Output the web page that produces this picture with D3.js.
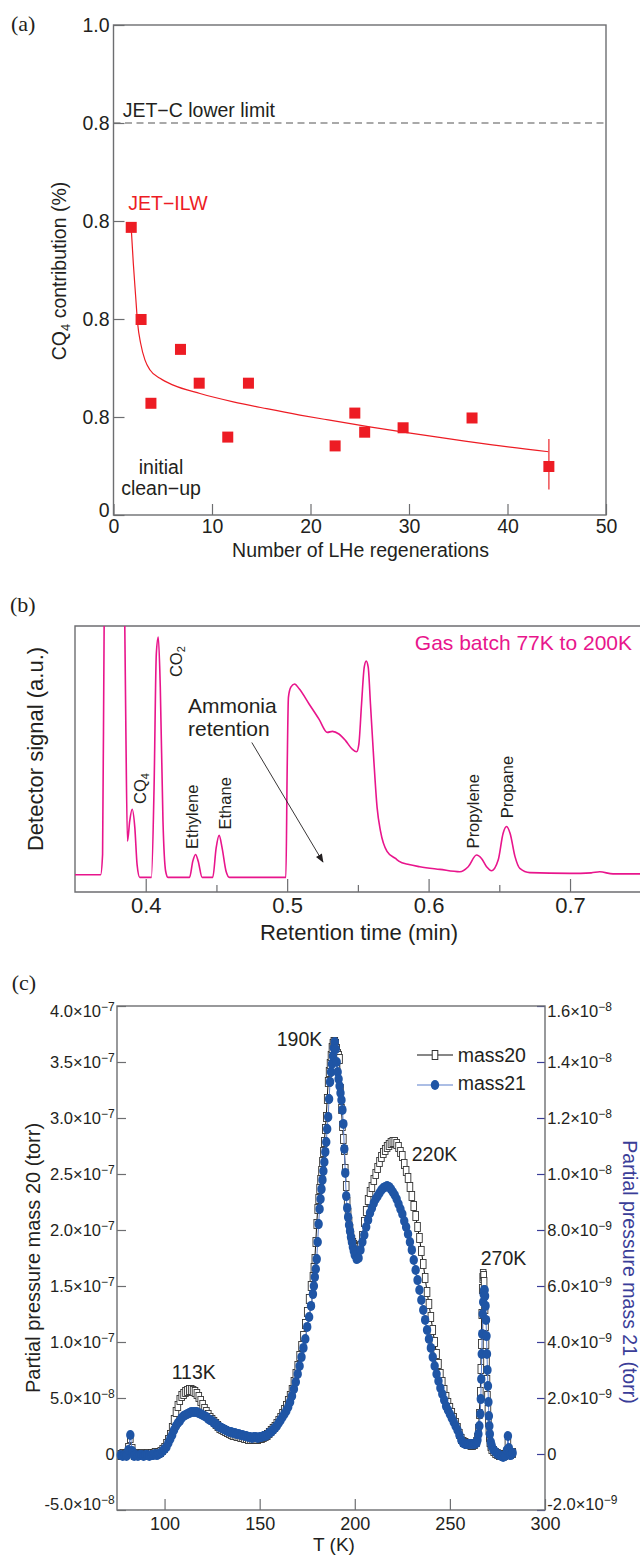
<!DOCTYPE html>
<html>
<head>
<meta charset="utf-8">
<script src="https://cdn.jsdelivr.net/npm/d3@7"></script>
<style>
  body { margin: 0; background: #fff; }
  svg text { font-family: "Liberation Sans", Arial, Helvetica, sans-serif; fill: #231f20; }
  svg text.serif { font-family: "Liberation Serif", "Times New Roman", serif; }
</style>
</head>
<body>
<svg id="fig" width="640" height="1556"></svg>
<script>
// ---------- (a) CQ4 contribution vs number of LHe regenerations ----------
const regenCount = [1.8, 2.8, 3.8, 6.8, 8.7, 11.6, 13.7, 22.5, 24.5, 25.5, 29.4, 36.4, 44.2];
const cq4Contrib = [0.587, 0.399, 0.228, 0.338, 0.269, 0.159, 0.269, 0.141, 0.208, 0.169, 0.178, 0.198, 0.099];
const fitRegen = [1.81, 2.01, 2.25, 2.45, 2.76, 3.2, 3.71, 4.72, 6.07, 8.78, 12.16, 15.55, 18.93, 21.8, 26, 30.13, 34.3, 38.46, 44.2];
const fitContrib = [0.582, 0.514, 0.446, 0.391, 0.35, 0.316, 0.296, 0.279, 0.265, 0.248, 0.231, 0.217, 0.204, 0.194, 0.18, 0.167, 0.155, 0.143, 0.129];
const lastErr = { x: 44.2, lo: 0.052, hi: 0.155 };
const jetCLimit = 0.8;
const aXTicks = [0, 10, 20, 30, 40, 50];
const aYTicks = [0, 0.2, 0.4, 0.6, 0.8, 1.0];
const aYTickLabels = ["0", "0.8", "0.8", "0.8", "0.8", "1.0"];

// ---------- (b) gas chromatogram ----------
const rtMin = [0.350, 0.3681, 0.3695, 0.3706, 0.3720, 0.3840, 0.3852, 0.3859, 0.3871, 0.3887,
  0.3904, 0.3923, 0.3939, 0.3958, 0.4040, 0.4059, 0.4075, 0.4089, 0.4103, 0.4122,
  0.4141, 0.4157, 0.4310, 0.4333, 0.4352, 0.4371, 0.4399, 0.4474, 0.4498, 0.4519,
  0.4540, 0.4568, 0.4592, 0.4991, 0.5000, 0.5009, 0.5026, 0.5052, 0.5085, 0.5155,
  0.5225, 0.5284, 0.5320, 0.5366, 0.5413, 0.5460, 0.5491, 0.5507, 0.5526, 0.5545,
  0.5559, 0.5573, 0.5589, 0.5613, 0.5636, 0.5660, 0.5706, 0.5766, 0.5789, 0.5861,
  0.5938, 0.6080, 0.6221, 0.6280, 0.6339, 0.6374, 0.6410, 0.6445, 0.6492, 0.6527,
  0.6551, 0.6576, 0.6611, 0.6645, 0.6716, 0.6998, 0.7150, 0.7210, 0.7304, 0.7493, 0.750];
const detSignal = [0.065, 0.065, 0.141, 1.0, 1.4, 1.4, 1.0, 0.644, 0.191, 0.267,
  0.311, 0.242, 0.103, 0.055, 0.055, 0.392, 0.896, 0.958, 0.770, 0.267,
  0.078, 0.055, 0.055, 0.116, 0.141, 0.116, 0.055, 0.055, 0.166, 0.213,
  0.166, 0.078, 0.055, 0.055, 0.455, 0.732, 0.770, 0.782, 0.764, 0.707,
  0.650, 0.600, 0.604, 0.594, 0.569, 0.537, 0.527, 0.556, 0.707, 0.845,
  0.868, 0.845, 0.707, 0.493, 0.317, 0.229, 0.153, 0.126, 0.116, 0.103,
  0.095, 0.085, 0.076, 0.095, 0.139, 0.126, 0.095, 0.080, 0.120, 0.221,
  0.246, 0.221, 0.133, 0.089, 0.073, 0.070, 0.072, 0.076, 0.068, 0.068, 0.068];
const bMajorTicks = [0.4, 0.5, 0.6, 0.7];
const bMinorTicks = [0.45, 0.55, 0.65];
// peak name, subscript, retention time and signal where the label starts
const peakNames = ["CQ", "CO", "Ethylene", "Ethane", "Propylene", "Propane"];
const peakSubs = ["4", "2", "", "", "", ""];
const peakLabelRt = [0.4005, 0.4256, 0.4369, 0.4606, 0.6355, 0.6595];
const peakLabelSig = [0.331, 0.808, 0.162, 0.235, 0.164, 0.277];

// ---------- (c) TPD partial pressures ----------
const tempK = [77, 78, 79, 80, 81, 82, 83, 84, 85, 86,
  87, 88, 89, 90, 91, 92, 93, 94, 95, 96,
  97, 98, 99, 100, 101, 102, 103, 104, 105, 106,
  107, 108, 109, 110, 111, 112, 113, 114, 115, 116,
  117, 118, 119, 120, 121, 122, 123, 124, 125, 126,
  127, 128, 129, 130, 131, 132, 133, 134, 135, 136,
  137, 138, 139, 140, 141, 142, 143, 144, 145, 146,
  147, 148, 149, 150, 151, 152, 153, 154, 155, 156,
  157, 158, 159, 160, 161, 162, 163, 164, 165, 166,
  167, 168, 169, 170, 171, 172, 173, 174, 175, 176,
  177, 178, 178.5, 179, 179.5, 180, 180.5, 181, 181.5, 182,
  182.5, 183, 183.5, 184, 184.5, 185, 185.5, 186, 186.5, 187,
  187.5, 188, 188.5, 189, 189.5, 190, 190.5, 191, 191.5, 192,
  192.5, 193, 193.5, 194, 194.5, 195, 195.5, 196, 196.5, 197,
  197.5, 198, 198.5, 199, 199.5, 200, 201, 202, 203, 204,
  205, 206, 207, 208, 209, 210, 211, 212, 213, 214,
  215, 216, 217, 218, 219, 220, 221, 222, 223, 224,
  225, 226, 227, 228, 229, 230, 231, 232, 233, 234,
  235, 236, 237, 238, 239, 240, 241, 242, 243, 244,
  245, 246, 247, 248, 249, 250, 251, 252, 253, 254,
  255, 256, 257, 258, 259, 260, 261, 262, 263, 264,
  264.5, 265, 265.5, 266, 266.25, 266.5, 266.75, 267, 267.25, 267.5,
  267.75, 268, 268.25, 268.5, 268.75, 269, 269.25, 269.5, 269.75, 270,
  270.25, 270.5, 270.75, 271, 271.5, 272, 273, 274, 275, 276,
  277, 278, 279, 280, 280.5, 281, 282, 283];
// mass 20 in units of 1e-8 torr (left axis)
const mass20 = [-0.09, 0, -0.09, 0, 0.54, 1.43, 0.45, -0.09, 0, -0.09,
  -0.09, 0, -0.09, -0.09, 0, -0.09, 0, 0, 0.09, 0,
  0.09, 0.18, 0.36, 0.54, 0.89, 1.25, 1.70, 2.32, 3.04, 3.75,
  4.29, 4.82, 5.18, 5.36, 5.54, 5.63, 5.71, 5.71, 5.63, 5.54,
  5.36, 5.09, 4.73, 4.38, 4.02, 3.75, 3.48, 3.21, 3.04, 2.86,
  2.68, 2.50, 2.32, 2.23, 2.14, 2.05, 1.96, 1.88, 1.79, 1.70,
  1.70, 1.61, 1.61, 1.52, 1.52, 1.43, 1.43, 1.34, 1.34, 1.34,
  1.34, 1.34, 1.34, 1.43, 1.43, 1.52, 1.61, 1.70, 1.88, 2.05,
  2.23, 2.41, 2.68, 2.95, 3.21, 3.57, 3.93, 4.29, 4.73, 5.18,
  5.71, 6.43, 7.14, 7.86, 8.75, 9.64, 10.54, 11.61, 12.68, 13.84,
  15.00, 15.80, 16.61, 17.41, 18.93, 20.54, 21.88, 22.77, 23.66, 24.46,
  25.27, 26.07, 26.96, 27.86, 29.02, 30.09, 31.70, 33.21, 34.11, 34.82,
  35.54, 36.25, 36.61, 36.79, 36.79, 36.61, 36.16, 35.71, 35.54, 35.27,
  32.59, 30.80, 29.29, 28.13, 27.14, 25.45, 23.93, 22.50, 21.52, 20.71,
  20.09, 19.46, 19.11, 18.84, 18.66, 18.48, 18.39, 18.39, 18.57, 19.46,
  20.71, 21.70, 22.68, 23.39, 23.84, 24.46, 25.00, 25.54, 26.07, 26.52,
  26.88, 27.14, 27.41, 27.59, 27.77, 27.86, 27.86, 27.68, 27.41, 26.96,
  26.61, 25.89, 25.27, 24.64, 23.84, 23.04, 22.14, 21.25, 20.27, 19.29,
  18.13, 16.96, 15.71, 14.46, 13.39, 12.23, 11.07, 10.00, 8.93, 8.04,
  7.14, 6.43, 5.71, 5.09, 4.55, 4.11, 3.66, 3.21, 2.77, 2.32,
  1.79, 1.34, 1.07, 0.98, 0.89, 0.89, 0.80, 0.80, 0.89, 1.07,
  1.43, 2.23, 3.57, 5.54, 7.59, 9.82, 12.50, 14.73, 15.71, 16.07,
  15.89, 15.36, 14.29, 12.95, 11.43, 9.82, 8.21, 6.61, 5.18, 3.93,
  2.86, 2.14, 1.52, 1.07, 0.71, 0.45, 0.27, 0.09, 0, -0.09,
  -0.09, -0.18, -0.09, 0.18, 0.89, 0.36, 0, 0.09];
// mass 21 in units of 1e-9 torr (right axis)
const mass21 = [-0.04, -0.07, -0.04, -0.07, 0.14, 0.68, 0.11, -0.07, -0.04, -0.07,
  -0.04, -0.04, -0.07, -0.04, -0.04, -0.07, -0.04, -0.04, 0, -0.04,
  0, 0.04, 0.11, 0.18, 0.25, 0.39, 0.54, 0.68, 0.86, 1.00,
  1.11, 1.18, 1.29, 1.36, 1.39, 1.43, 1.46, 1.50, 1.50, 1.50,
  1.50, 1.46, 1.43, 1.39, 1.36, 1.32, 1.25, 1.21, 1.18, 1.11,
  1.07, 1.00, 0.96, 0.93, 0.89, 0.86, 0.82, 0.79, 0.79, 0.75,
  0.75, 0.71, 0.71, 0.68, 0.68, 0.64, 0.64, 0.61, 0.61, 0.57,
  0.61, 0.61, 0.57, 0.61, 0.61, 0.64, 0.64, 0.68, 0.75, 0.79,
  0.86, 0.93, 1.00, 1.11, 1.21, 1.32, 1.43, 1.54, 1.68, 1.86,
  2.07, 2.32, 2.57, 2.86, 3.14, 3.46, 3.79, 4.11, 4.54, 4.89,
  5.29, 5.71, 6.00, 6.32, 6.61, 6.96, 7.57, 8.21, 8.75, 9.11,
  9.46, 9.79, 10.11, 10.43, 10.79, 11.14, 11.61, 12.04, 12.68, 13.29,
  13.64, 13.93, 14.21, 14.50, 14.71, 14.46, 14.00, 13.64, 13.39, 13.14,
  12.89, 12.64, 12.29, 11.79, 10.89, 10.04, 9.21, 8.79, 8.46, 8.18,
  7.96, 7.75, 7.57, 7.39, 7.25, 7.11, 6.96, 7.00, 7.29, 7.57,
  7.82, 8.11, 8.36, 8.61, 8.79, 8.96, 9.11, 9.21, 9.32, 9.43,
  9.50, 9.54, 9.57, 9.54, 9.46, 9.36, 9.25, 9.11, 8.93, 8.75,
  8.57, 8.32, 8.11, 7.86, 7.57, 7.29, 6.93, 6.57, 6.21, 5.86,
  5.50, 5.14, 4.79, 4.43, 4.11, 3.79, 3.46, 3.14, 2.86, 2.61,
  2.36, 2.14, 1.93, 1.71, 1.57, 1.43, 1.29, 1.14, 1.00, 0.86,
  0.68, 0.50, 0.39, 0.36, 0.36, 0.36, 0.36, 0.36, 0.36, 0.39,
  0.50, 0.71, 1.00, 1.43, 1.96, 2.68, 3.57, 4.29, 5.00, 5.43,
  5.71, 5.86, 5.86, 5.64, 5.29, 4.79, 4.21, 3.57, 3.00, 2.43,
  1.86, 1.36, 1.00, 0.71, 0.43, 0.29, 0.14, 0.07, 0, -0.04,
  -0.07, -0.11, -0.07, 0.14, 0.64, 0.21, -0.04, 0.04];
const M20_UNIT = 1e-8, M21_UNIT = 1e-9;
const cXTicks = [100, 150, 200, 250, 300];
const cLeftTicks = [-5e-8, 0, 5e-8, 1e-7, 1.5e-7, 2e-7, 2.5e-7, 3e-7, 3.5e-7, 4e-7];
const cLeftLabels = [["-5.0", "8"], ["0", ""], ["5.0", "8"], ["1.0", "7"], ["1.5", "7"], ["2.0", "7"], ["2.5", "7"], ["3.0", "7"], ["3.5", "7"], ["4.0", "7"]];
const cRightTicks = [-2e-9, 0, 2e-9, 4e-9, 6e-9, 8e-9, 1e-8, 1.2e-8, 1.4e-8, 1.6e-8];
const cRightLabels = [["-2.0", "9"], ["0", ""], ["2.0", "9"], ["4.0", "9"], ["6.0", "9"], ["8.0", "9"], ["1.0", "8"], ["1.2", "8"], ["1.4", "8"], ["1.6", "8"]];
const peakTempLabels = ["113K", "190K", "220K", "270K"];

// ---------- drawing ----------
const FRAME = "#6d6e71";
const RED = "#ed1c24";
const MAGENTA = "#e8158c";
const BLUE = "#1f55a5";
const AXBLUE = "#3a3d98";
const svg = d3.select("#fig");

function styleAxis(g, size, color) {
  g.select(".domain").remove();
  g.selectAll(".tick line").attr("stroke", color || FRAME).attr("stroke-width", 1.2);
  g.selectAll(".tick text").attr("font-size", size).attr("fill", "#231f20")
    .attr("font-family", '"Liberation Sans", Arial, sans-serif');
}
// end labels sit just inside the frame, as in the original figure
function nudgeEnds(g, lo, hi) {
  g.selectAll(".tick text").filter(d => d === lo).attr("y", -6);
  g.selectAll(".tick text").filter(d => d === hi).attr("y", 5);
}

// panel (a)
const xA = d3.scaleLinear().domain([0, 50]).range([113.5, 606]);
const yA = d3.scaleLinear().domain([0, 1]).range([515, 25]);
const gA = svg.append("g");

gA.append("line")
  .attr("x1", xA(0)).attr("x2", xA(50))
  .attr("y1", yA(jetCLimit)).attr("y2", yA(jetCLimit))
  .attr("stroke", "#555").attr("stroke-width", 1.2).attr("stroke-dasharray", "7,4.5");

gA.append("g").attr("transform", `translate(${xA(0)},0)`)
  .call(d3.axisLeft(yA).tickValues(aYTicks).tickFormat((d, i) => aYTickLabels[i]).tickSize(-11).tickPadding(4))
  .call(g => styleAxis(g, 19.5))
  .call(g => g.selectAll(".tick text").filter(d => d === 0).attr("y", -5));
gA.append("g").attr("transform", `translate(0,${yA(0)})`)
  .call(d3.axisBottom(xA).tickValues(aXTicks).tickFormat(d3.format("d")).tickSize(-11).tickPadding(4.5))
  .call(g => styleAxis(g, 19.5));

gA.append("rect")
  .attr("x", xA(0)).attr("y", yA(1))
  .attr("width", xA(50) - xA(0)).attr("height", yA(0) - yA(1))
  .attr("fill", "none").attr("stroke", FRAME).attr("stroke-width", 1.4);

gA.append("path")
  .datum(fitRegen.map((x, i) => [x, fitContrib[i]]))
  .attr("fill", "none").attr("stroke", RED).attr("stroke-width", 1.2)
  .attr("d", d3.line().x(d => xA(d[0])).y(d => yA(d[1])).curve(d3.curveMonotoneX));

gA.append("line")
  .attr("x1", xA(lastErr.x)).attr("x2", xA(lastErr.x))
  .attr("y1", yA(lastErr.lo)).attr("y2", yA(lastErr.hi))
  .attr("stroke", "#f05a5e").attr("stroke-width", 1.6);

gA.selectAll("rect.pt")
  .data(regenCount.map((x, i) => [x, cq4Contrib[i]]))
  .join("rect").attr("class", "pt")
  .attr("x", d => xA(d[0]) - 5.5).attr("y", d => yA(d[1]) - 5.5)
  .attr("width", 11).attr("height", 11).attr("fill", RED);

gA.append("text").attr("x", 122.7).attr("y", 117.3).attr("font-size", 19.5).text("JET\u2212C lower limit");
gA.append("text").attr("x", 128.3).attr("y", 210).attr("font-size", 19.5).style("fill", RED).text("JET\u2212ILW");
gA.append("text").attr("x", 161).attr("y", 474).attr("font-size", 19.5).attr("text-anchor", "middle").text("initial");
gA.append("text").attr("x", 161).attr("y", 495).attr("font-size", 19.5).attr("text-anchor", "middle").text("clean\u2212up");

const yLabA = gA.append("text").attr("transform", "translate(66,271) rotate(-90)")
  .attr("text-anchor", "middle").attr("font-size", 19.5);
yLabA.append("tspan").text("CQ");
yLabA.append("tspan").attr("font-size", 13).attr("dy", 4).text("4");
yLabA.append("tspan").attr("dy", -4).text(" contribution (%)");
gA.append("text").attr("x", 360.5).attr("y", 557).attr("font-size", 19.5).attr("text-anchor", "middle")
  .text("Number of LHe regenerations");
gA.append("text").attr("class", "serif").attr("x", 11).attr("y", 31).attr("font-size", 22).text("(a)");

// panel (b)
const xB = d3.scaleLinear().domain([0.35, 0.75]).range([75, 640.75]);
const yB = d3.scaleLinear().domain([0, 1]).range([892, 626]);
const gB = svg.append("g");

gB.append("clipPath").attr("id", "clipB")
  .append("rect").attr("x", 75).attr("y", 626).attr("width", 565).attr("height", 266);

gB.append("g").attr("transform", `translate(0,${yB(0)})`)
  .call(d3.axisBottom(xB).tickValues(bMajorTicks).tickFormat(d3.format(".1f")).tickSize(-13).tickPadding(5.5))
  .call(g => styleAxis(g, 22));
gB.append("g").attr("transform", `translate(0,${yB(0)})`)
  .call(d3.axisBottom(xB).tickValues(bMinorTicks).tickFormat("").tickSize(-7))
  .call(g => styleAxis(g, 22));

gB.append("path")
  .attr("fill", "none").attr("stroke", FRAME).attr("stroke-width", 1.4)
  .attr("d", `M640,${yB(1)}H${xB(0.35)}V${yB(0)}H640`);

gB.append("path")
  .datum(rtMin.map((x, i) => [x, detSignal[i]]))
  .attr("clip-path", "url(#clipB)")
  .attr("fill", "none").attr("stroke", MAGENTA).attr("stroke-width", 1.6)
  .attr("d", d3.line().x(d => xB(d[0])).y(d => yB(d[1])).curve(d3.curveMonotoneX));

peakNames.forEach((name, i) => {
  const t = gB.append("text")
    .attr("transform", `translate(${xB(peakLabelRt[i])},${yB(peakLabelSig[i])}) rotate(-90)`)
    .attr("font-size", 16.5);
  t.append("tspan").text(name);
  if (peakSubs[i]) t.append("tspan").attr("font-size", 11).attr("dy", 3).text(peakSubs[i]);
});

gB.append("text").attr("x", 632).attr("y", 650).attr("font-size", 21).attr("text-anchor", "end")
  .style("fill", MAGENTA).text("Gas batch 77K to 200K");
gB.append("text").attr("x", 188).attr("y", 713).attr("font-size", 21).text("Ammonia");
gB.append("text").attr("x", 188).attr("y", 735.5).attr("font-size", 21).text("retention");

svg.append("defs").append("marker")
  .attr("id", "arrowHead").attr("viewBox", "0 0 10 8").attr("refX", 9).attr("refY", 4)
  .attr("markerWidth", 9).attr("markerHeight", 7).attr("markerUnits", "userSpaceOnUse")
  .attr("orient", "auto")
  .append("path").attr("d", "M0,0L10,4L0,8Z").attr("fill", "#231f20");
gB.append("line")
  .attr("x1", xB(0.475)).attr("y1", yB(0.562))
  .attr("x2", xB(0.5253)).attr("y2", yB(0.113))
  .attr("stroke", "#231f20").attr("stroke-width", 0.9).attr("marker-end", "url(#arrowHead)");

gB.append("text").attr("transform", "translate(43,749) rotate(-90)").attr("text-anchor", "middle")
  .attr("font-size", 22).text("Detector signal (a.u.)");
gB.append("text").attr("x", 359).attr("y", 940).attr("text-anchor", "middle").attr("font-size", 22)
  .text("Retention time (min)");
gB.append("text").attr("class", "serif").attr("x", 10).attr("y", 612).attr("font-size", 22).text("(b)");

// panel (c)
const xC = d3.scaleLinear().domain([75, 300]).range([117, 545]);
const yL = d3.scaleLinear().domain([-5e-8, 4e-7]).range([1510, 1006]);
const yR = d3.scaleLinear().domain([-2e-9, 1.6e-8]).range([1510, 1006]);
const gC = svg.append("g");

function sciLabels(g, labels) {
  g.selectAll(".tick text").each(function (d, i) {
    const t = d3.select(this).text(null);
    const [m, e] = labels[i];
    if (!e) { t.text(m); return; }
    t.append("tspan").text(m + "\u00d710");
    t.append("tspan").attr("font-size", 12).attr("dy", "-0.5em").text("\u2212" + e);
  });
}

gC.append("g").attr("transform", `translate(${xC(75)},0)`)
  .call(d3.axisLeft(yL).tickValues(cLeftTicks).tickSize(-9).tickPadding(2.3))
  .call(g => styleAxis(g, 16.5))
  .call(g => sciLabels(g, cLeftLabels))
  .call(g => nudgeEnds(g, -5e-8, 4e-7));
gC.append("g").attr("transform", `translate(${xC(300)},0)`)
  .call(d3.axisRight(yR).tickValues(cRightTicks).tickSize(-8).tickPadding(2.3))
  .call(g => styleAxis(g, 16.5, AXBLUE))
  .call(g => g.selectAll(".tick text").attr("fill", AXBLUE))
  .call(g => sciLabels(g, cRightLabels))
  .call(g => nudgeEnds(g, -2e-9, 1.6e-8));
gC.append("g").attr("transform", `translate(0,${yL(-5e-8)})`)
  .call(d3.axisBottom(xC).tickValues(cXTicks).tickFormat(d3.format("d")).tickSize(-11).tickPadding(7))
  .call(g => styleAxis(g, 18));

gC.append("rect")
  .attr("x", xC(75)).attr("y", yL(4e-7))
  .attr("width", xC(300) - xC(75)).attr("height", yL(-5e-8) - yL(4e-7))
  .attr("fill", "none").attr("stroke", FRAME).attr("stroke-width", 1.4);

const pts20 = tempK.map((t, i) => [t, mass20[i] * M20_UNIT]);
const pts21 = tempK.map((t, i) => [t, mass21[i] * M21_UNIT]);

gC.append("path").datum(pts20)
  .attr("fill", "none").attr("stroke", "#111").attr("stroke-width", 1)
  .attr("d", d3.line().x(d => xC(d[0])).y(d => yL(d[1])));
gC.selectAll("rect.m20").data(pts20).join("rect").attr("class", "m20")
  .attr("x", d => xC(d[0]) - 2.8).attr("y", d => yL(d[1]) - 4.5)
  .attr("width", 5.6).attr("height", 9)
  .attr("fill", "#fff").attr("stroke", "#333").attr("stroke-width", 0.9);

gC.append("path").datum(pts21)
  .attr("fill", "none").attr("stroke", "#5b7fcc").attr("stroke-width", 1)
  .attr("d", d3.line().x(d => xC(d[0])).y(d => yR(d[1])));
gC.selectAll("ellipse.m21").data(pts21).join("ellipse").attr("class", "m21")
  .attr("cx", d => xC(d[0])).attr("cy", d => yR(d[1]))
  .attr("rx", 4.2).attr("ry", 5).attr("fill", BLUE);

// peak temperature labels
const peakLabelPos = [[171.7, 1379.3], [276.7, 1046], [411.7, 1160.7], [480.7, 1265]];
peakTempLabels.forEach((s, i) => {
  gC.append("text").attr("x", peakLabelPos[i][0]).attr("y", peakLabelPos[i][1])
    .attr("font-size", 19.5).text(s);
});

// legend
const lg = gC.append("g");
lg.append("line").attr("x1", 417).attr("x2", 453).attr("y1", 1055).attr("y2", 1055).attr("stroke", "#111").attr("stroke-width", 1.2);
lg.append("rect").attr("x", 432.2).attr("y", 1050.5).attr("width", 5.6).attr("height", 9)
  .attr("fill", "#fff").attr("stroke", "#333").attr("stroke-width", 1);
lg.append("text").attr("x", 457.7).attr("y", 1061.7).attr("font-size", 19.5).text("mass20");
lg.append("line").attr("x1", 417).attr("x2", 453).attr("y1", 1085).attr("y2", 1085).attr("stroke", "#5b7fcc").attr("stroke-width", 1.2);
lg.append("ellipse").attr("cx", 435).attr("cy", 1085).attr("rx", 4.2).attr("ry", 5).attr("fill", BLUE);
lg.append("text").attr("x", 457.7).attr("y", 1090).attr("font-size", 19.5).text("mass21");

gC.append("text").attr("transform", "translate(40,1258) rotate(-90)").attr("text-anchor", "middle")
  .attr("font-size", 20).text("Partial pressure mass 20 (torr)");
gC.append("text").attr("transform", "translate(623,1272) rotate(90)").attr("text-anchor", "middle")
  .attr("font-size", 19.5).style("fill", AXBLUE).text("Partial pressure mass 21 (torr)");
gC.append("text").attr("x", 334).attr("y", 1551).attr("text-anchor", "middle").attr("font-size", 19)
  .text("T (K)");
gC.append("text").attr("class", "serif").attr("x", 11.7).attr("y", 990).attr("font-size", 22).text("(c)");
</script>
</body>
</html>
